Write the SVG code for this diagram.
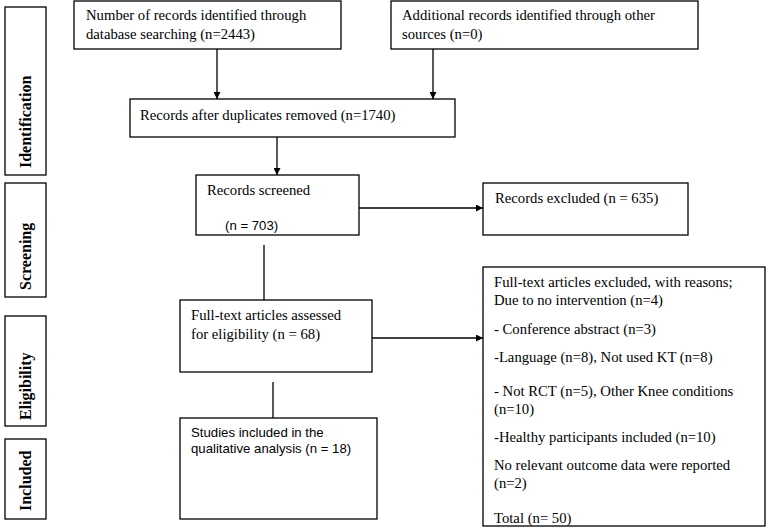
<svg xmlns="http://www.w3.org/2000/svg" width="766" height="528" viewBox="0 0 766 528">
<style>
.box{fill:#fff;stroke:#000;stroke-width:1.3}
.t{font-family:"Liberation Serif","Times New Roman",serif;font-size:14.7px;fill:#000}
.s{font-family:"Liberation Sans",Arial,sans-serif;font-size:13.2px;fill:#000}
.lab{font-family:"Liberation Serif","Times New Roman",serif;font-size:16px;font-weight:bold;fill:#000}
.c{fill:none;stroke:#000;stroke-width:1.3}
</style>
<defs>
<marker id="ah" viewBox="0 0 10 10" refX="10" refY="5" markerWidth="7" markerHeight="7" markerUnits="userSpaceOnUse" orient="auto">
<path d="M0,0 L10,5 L0,10 z" fill="#000"/>
</marker>
</defs>
<rect width="766" height="528" fill="#fff"/>

<g id="phase-identification">
<rect class="box" x="5" y="7" width="41" height="168"/>
<text class="lab" transform="translate(31,168) rotate(-90)">Identification</text>
</g>
<g id="phase-screening">
<rect class="box" x="5" y="183" width="41" height="114"/>
<text class="lab" transform="translate(31,290) rotate(-90)">Screening</text>
</g>
<g id="phase-eligibility">
<rect class="box" x="5" y="316" width="41" height="110"/>
<text class="lab" transform="translate(31,420) rotate(-90)">Eligibility</text>
</g>
<g id="phase-included">
<rect class="box" x="5" y="439" width="41" height="80"/>
<text class="lab" transform="translate(31,511) rotate(-90)">Included</text>
</g>

<g id="connectors">
<line class="c" x1="217" y1="49" x2="217" y2="99" marker-end="url(#ah)"/>
<line class="c" x1="433" y1="49" x2="433" y2="99" marker-end="url(#ah)"/>
<line class="c" x1="277" y1="137" x2="277" y2="175" marker-end="url(#ah)"/>
<line class="c" x1="359" y1="208" x2="483" y2="208" marker-end="url(#ah)"/>
<line class="c" x1="264" y1="245" x2="264" y2="300"/>
<line class="c" x1="372" y1="338" x2="483" y2="338" marker-end="url(#ah)"/>
<line class="c" x1="273" y1="382" x2="273" y2="418"/>
</g>

<g id="n-database">
<rect class="box" x="74" y="1" width="267" height="48"/>
<text class="t" x="86" y="20">Number of records identified through</text>
<text class="t" x="86" y="39">database searching (n=2443)</text>
</g>
<g id="n-other">
<rect class="box" x="391" y="1" width="307" height="48"/>
<text class="t" x="402" y="20">Additional records identified through other</text>
<text class="t" x="402" y="39">sources (n=0)</text>
</g>
<g id="n-duplicates">
<rect class="box" x="130" y="99" width="325" height="38"/>
<text class="t" x="140" y="120">Records after duplicates removed (n=1740)</text>
</g>
<g id="n-screened">
<rect class="box" x="196" y="175" width="163" height="60"/>
<text class="t" x="207" y="195">Records screened</text>
<text class="s" x="225" y="230">(n = 703)</text>
</g>
<g id="n-excluded">
<rect class="box" x="483" y="183" width="205" height="52"/>
<text class="t" x="495" y="203">Records excluded (n = 635)</text>
</g>
<g id="n-fulltext">
<rect class="box" x="180" y="300" width="192" height="72"/>
<text class="t" x="191" y="320">Full-text articles assessed</text>
<text class="t" x="191" y="339">for eligibility (n = 68)</text>
</g>
<g id="n-fulltext-excluded">
<rect class="box" x="483" y="267" width="282" height="259"/>
<text class="t" x="494" y="287">Full-text articles excluded, with reasons;</text>
<text class="t" x="494" y="305">Due to no intervention (n=4)</text>
<text class="t" x="494" y="334">- Conference abstract (n=3)</text>
<text class="t" x="494" y="362">-Language (n=8), Not used KT (n=8)</text>
<text class="t" x="494" y="396">- Not RCT (n=5), Other Knee conditions</text>
<text class="t" x="494" y="414">(n=10)</text>
<text class="t" x="494" y="442">-Healthy participants included (n=10)</text>
<text class="t" x="494" y="470">No relevant outcome data were reported</text>
<text class="t" x="494" y="488">(n=2)</text>
<text class="t" x="494" y="523">Total (n= 50)</text>
</g>
<g id="n-included">
<rect class="box" x="180" y="418" width="197" height="101"/>
<text class="s" x="191" y="437">Studies included in the</text>
<text class="s" x="191" y="453">qualitative analysis (n = 18)</text>
</g>
</svg>
